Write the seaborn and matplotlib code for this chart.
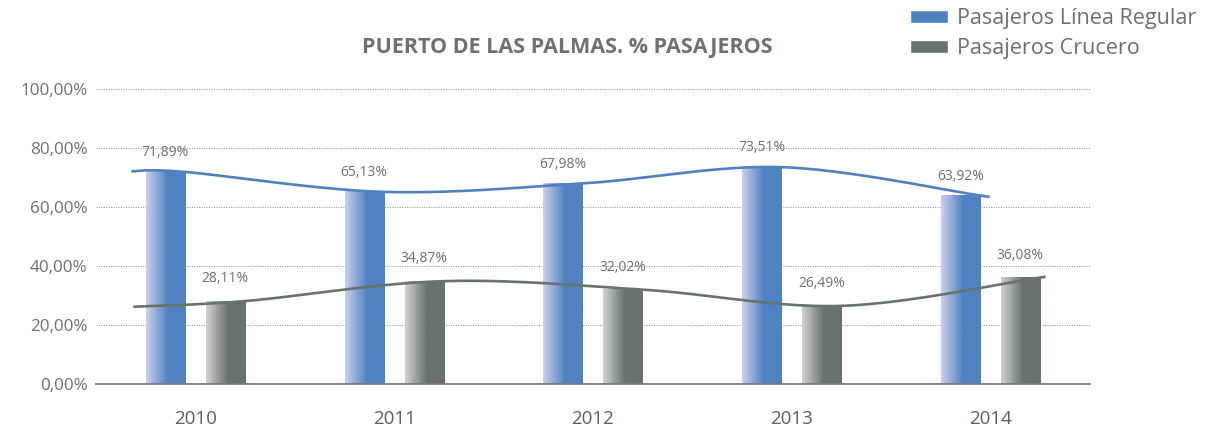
import numpy as np
import pandas as pd
import matplotlib
matplotlib.use("Agg")
import matplotlib.pyplot as plt
import matplotlib.colors as mcolors
from matplotlib.patches import Patch
import seaborn as sns

years = ["2010", "2011", "2012", "2013", "2014"]
linea_regular = [71.89, 65.13, 67.98, 73.51, 63.92]
crucero = [28.11, 34.87, 32.02, 26.49, 36.08]
series_names = ["Pasajeros Línea Regular", "Pasajeros Crucero"]
y_ticks = [0, 20, 40, 60, 80, 100]
# the smoothed lines start a bit left of the first bar, at these levels
line_start = [72.1, 26.2]

BLUE = "#4f82c0"
GREY = "#68736a"
LIGHT = {BLUE: "#cbcfea", GREY: "#cdd3cc"}
TEXT = "#6b736d"

sns.set_theme(style="white")
plt.rcParams["font.family"] = ["Open Sans", "DejaVu Sans"]

df = pd.DataFrame({
    "year": years * 2,
    "value": linea_regular + crucero,
    "serie": [series_names[0]] * 5 + [series_names[1]] * 5,
})

fig = plt.figure(figsize=(12.12, 4.32), dpi=100)
ax = fig.add_axes([0.0792, 0.111, 0.8198, 0.683])

sns.barplot(data=df, x="year", y="value", hue="serie", palette=[BLUE, GREY],
            width=0.604, gap=0.35, legend=False, ax=ax)


def smooth(xs, ys, n=40):
    # Catmull-Rom spline, roughly like the office "smoothed line"
    xs = np.asarray(xs, float)
    ys = np.asarray(ys, float)
    px = np.concatenate([[xs[0]], xs, [xs[-1]]])
    py = np.concatenate([[ys[0]], ys, [ys[-1]]])
    out_x, out_y = [], []
    for i in range(1, len(px) - 2):
        t = np.linspace(0, 1, n)
        for arr, out in ((px, out_x), (py, out_y)):
            p0, p1, p2, p3 = arr[i - 1], arr[i], arr[i + 1], arr[i + 2]
            m1 = (p2 - p0) / 2
            m2 = (p3 - p1) / 2
            h00 = 2 * t**3 - 3 * t**2 + 1
            h10 = t**3 - 2 * t**2 + t
            h01 = -2 * t**3 + 3 * t**2
            h11 = t**3 - t**2
            out.extend(h00 * p1 + h10 * m1 + h01 * p2 + h11 * m2)
    return np.array(out_x), np.array(out_y)


# gradient fill on each bar (light at left, solid from the middle)
right_edges = {BLUE: [], GREY: []}
for patch in ax.patches:
    x0, y0 = patch.get_x(), patch.get_y()
    w, h = patch.get_width(), patch.get_height()
    if h <= 0:
        continue
    fc = mcolors.to_hex(patch.get_facecolor())
    base = BLUE if abs(int(fc[1:3], 16) - int(BLUE[1:3], 16)) < 20 else GREY
    right_edges[base].append(x0 + w)
    cmap = mcolors.LinearSegmentedColormap.from_list(
        "g", [(0, LIGHT[base]), (0.55, base), (1, base)])
    grad = np.linspace(0, 1, 64).reshape(1, -1)
    ax.imshow(grad, extent=[x0, x0 + w, y0, y0 + h], aspect="auto",
              cmap=cmap, zorder=patch.get_zorder() + 0.1)
    patch.set_facecolor("none")

# value labels
for i in range(len(years)):
    ax.annotate(f"{linea_regular[i]:.2f}%".replace(".", ","),
                (i - 0.151, linea_regular[i]), xytext=(0, 14),
                textcoords="offset points", ha="center", va="center",
                fontsize=10, color=TEXT)
    ax.annotate(f"{crucero[i]:.2f}%".replace(".", ","),
                (i + 0.151, crucero[i]), xytext=(0, 16),
                textcoords="offset points", ha="center", va="center",
                fontsize=10, color=TEXT)

# smoothed lines through the top right corner of each bar
for base, vals, x_start, start_val, tail in (
        (BLUE, linea_regular, -0.322, line_start[0], 0.05),
        (GREY, crucero, -0.312, line_start[1], 0.03)):
    xs = [x_start] + sorted(right_edges[base])
    lx, ly = smooth(xs, [start_val] + vals)
    slope = (ly[-1] - ly[-2]) / (lx[-1] - lx[-2])
    lx = np.append(lx, lx[-1] + tail)
    ly = np.append(ly, ly[-1] + slope * tail)
    ax.plot(lx, ly, color=base, lw=1.9, zorder=5, solid_capstyle="butt")

ax.set_xlim(-0.5, 4.5)
ax.set_ylim(0, 100)
ax.set_yticks(y_ticks)
ax.set_yticklabels([f"{v:.2f}%".replace(".", ",") for v in y_ticks],
                   fontsize=12.3, color=TEXT)
ax.set_xticks(range(len(years)))
ax.set_xticklabels(years, fontsize=13.5, color="#5a625c")
ax.set_xticks(np.arange(-0.5, 5, 1), minor=True)
ax.tick_params(axis="x", which="major", length=0, pad=19)
ax.tick_params(axis="x", which="minor", length=5, width=1, color="#7a7a7a",
               direction="out")
ax.tick_params(axis="y", length=0, pad=6)
ax.set_xlabel("")
ax.set_ylabel("")
for s in ["top", "right", "left"]:
    ax.spines[s].set_visible(False)
ax.spines["bottom"].set_color("#7a7a7a")
ax.spines["bottom"].set_linewidth(1.3)
ax.yaxis.grid(True, linestyle=(0, (1, 1.2)), color="#9a9a9a", lw=0.8)
ax.set_axisbelow(True)

fig.text(0.468, 0.891, "PUERTO DE LAS PALMAS. % PASAJEROS", ha="center",
         va="center", fontsize=15.5, fontweight="bold", color=TEXT)

handles = [Patch(facecolor=BLUE, label=series_names[0]),
           Patch(facecolor=GREY, label=series_names[1])]
fig.legend(handles=handles, loc="upper left",
           bbox_to_anchor=(910 / 1212, 1 - 8 / 432),
           frameon=False, fontsize=15.5, handlelength=1.75, handleheight=0.6,
           labelspacing=0.42, handletextpad=0.45, borderpad=0,
           borderaxespad=0, labelcolor=TEXT)

fig.savefig("out.png", dpi=100)
